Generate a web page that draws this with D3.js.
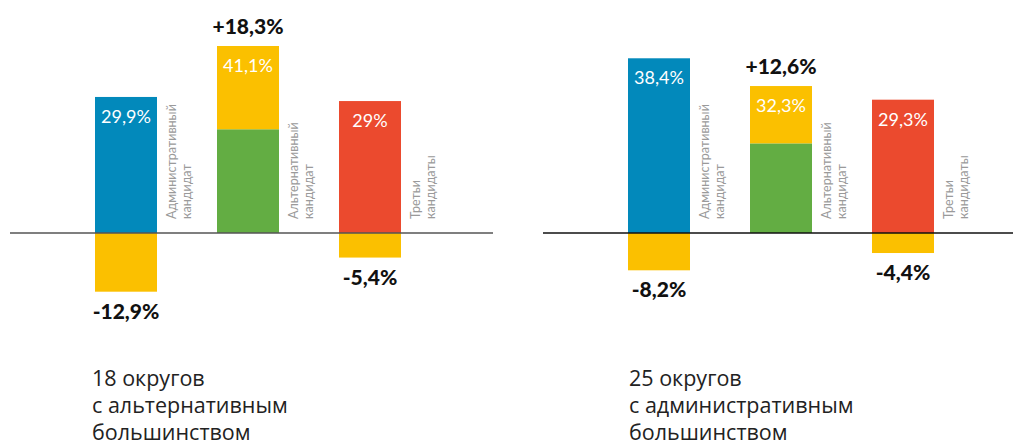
<!DOCTYPE html>
<html><head><meta charset="utf-8">
<script src="https://cdn.jsdelivr.net/npm/d3@7"></script>
<style>html,body{margin:0;padding:0;background:#fff;}svg{display:block;}</style>
</head><body>
<script>
const categories = [["Административный","кандидат"],["Альтернативный","кандидат"],["Третьи","кандидаты"]];
const captionsLeft = ["18 округов","с альтернативным","большинством"];
const captionsRight = ["25 округов","с административным","большинством"];
const valuesLeft = [29.9, 41.1, 29.0];
const changesLeft = [-12.9, 18.3, -5.4];
const valuesRight = [38.4, 32.3, 29.3];
const changesRight = [-8.2, 12.6, -4.4];
const valueLabelsLeft = ["29,9%","41,1%","29%"];
const changeLabelsLeft = ["-12,9%","+18,3%","-5,4%"];
const valueLabelsRight = ["38,4%","32,3%","29,3%"];
const changeLabelsRight = ["-8,2%","+12,6%","-4,4%"];

const colors = ["#0289bb","#63ad43","#eb4a2e"];
const yellow = "#fbc000";
const W = 1013, H = 442;
const svg = d3.select("body").append("svg").attr("width",W).attr("height",H);
const font = "Lato, 'Noto Sans', sans-serif";
const capFont = "'Open Sans', 'Noto Sans', sans-serif";

const y = d3.scaleLinear().domain([0, 41.1]).range([233, 46]);

const panels = [
  {x0:10, x1:493, vals:valuesLeft, ch:changesLeft, vl:valueLabelsLeft, cl:changeLabelsLeft, cap:captionsLeft, capX:92, axis:"#555"},
  {x0:543, x1:1026, vals:valuesRight, ch:changesRight, vl:valueLabelsRight, cl:changeLabelsRight, cap:captionsRight, capX:629, axis:"#111"}
];

panels.forEach(p => {
  const g = svg.append("g");
  const x = d3.scaleBand().domain(d3.range(3)).range([p.x0 + 85, p.x0 + 391]).paddingInner(60/122).paddingOuter(0);
  const data = p.vals.map((v,i)=>({i, v, c:p.ch[i], vl:p.vl[i], cl:p.cl[i]}));
  const bw = x.bandwidth();
  // main bars
  g.selectAll(".main").data(data).join("rect")
    .attr("x", d=>x(d.i)).attr("width", bw)
    .attr("y", d=>y(d.c>0 ? d.v - d.c : d.v))
    .attr("height", d=>y(0)-y(d.c>0 ? d.v - d.c : d.v))
    .attr("fill", d=>colors[d.i]);
  // change segments
  g.selectAll(".chg").data(data).join("rect")
    .attr("x", d=>x(d.i)).attr("width", bw)
    .attr("y", d=>d.c>0 ? y(d.v) : y(0))
    .attr("height", d=>Math.abs(y(d.c)-y(0)))
    .attr("fill", yellow);
  // axis line
  g.append("line").attr("x1",p.x0).attr("x2",p.x1).attr("y1",y(0)).attr("y2",y(0))
    .attr("stroke",p.axis).attr("stroke-width",1.5);
  // value labels
  g.selectAll(".vl").data(data).join("text")
    .attr("x", d=>x(d.i)+bw/2).attr("y", d=>y(d.v)+26)
    .attr("text-anchor","middle").attr("fill","#fff")
    .attr("font-family",font).attr("font-size",18).text(d=>d.vl);
  // change labels
  g.selectAll(".cl").data(data).join("text")
    .attr("x", d=>x(d.i)+bw/2)
    .attr("y", d=>d.c>0 ? y(d.v)-12 : y(d.c)+27)
    .attr("text-anchor","middle").attr("fill","#111")
    .attr("font-family",font).attr("font-weight",900).attr("font-size",21).text(d=>d.cl);
  // category labels rotated
  data.forEach(d=>{
    const t = g.append("text")
      .attr("transform",`translate(${x(d.i)+bw+19},${y(0)-14}) rotate(-90)`)
      .attr("fill","#9a9a9a").attr("font-family",font).attr("font-size",12.5);
    categories[d.i].forEach((line,k)=>{
      t.append("tspan").attr("x",0).attr("y",k*14.5).text(line);
    });
  });
  // caption
  const c = g.append("text").attr("fill","#222").attr("font-family",capFont).attr("font-size",21.5);
  p.cap.forEach((line,k)=>{
    c.append("tspan").attr("x",p.capX).attr("y",386+k*27).text(line);
  });
});
</script>
</body></html>
